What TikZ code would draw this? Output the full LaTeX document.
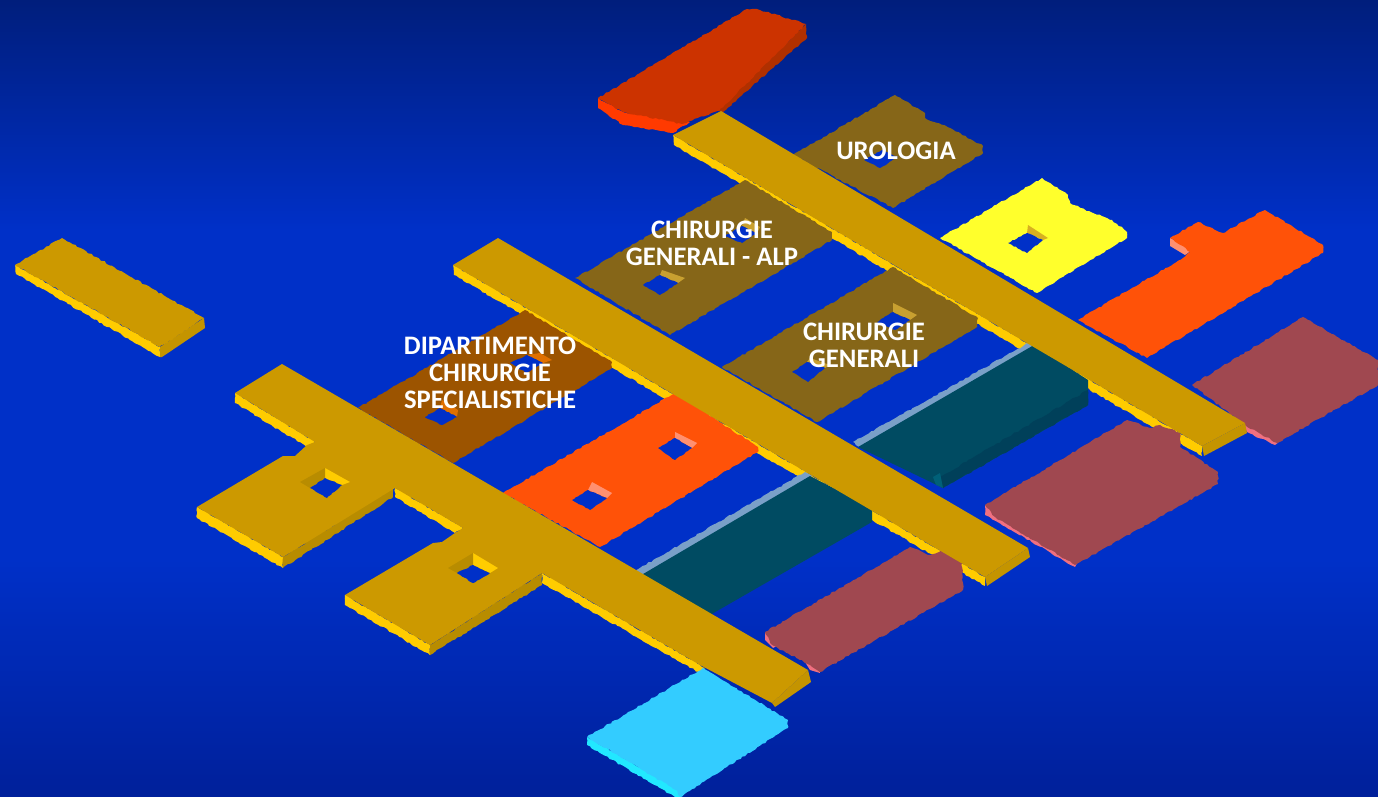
\documentclass[tikz,border=0pt]{standalone}
\usepackage{fontspec}
\usetikzlibrary{decorations.pathmorphing}
\setmainfont{Carlito}
\definecolor{bgtop}{HTML}{001E7C}
\definecolor{bgmid}{HTML}{0030C8}
\definecolor{bgbot}{HTML}{00209A}
\definecolor{bar}{HTML}{CC9900}
\definecolor{barrim}{HTML}{FFCC00}
\definecolor{barend}{HTML}{C49400}
\definecolor{barshade}{HTML}{B88C00}
\definecolor{olive}{HTML}{866618}
\definecolor{oliveLip}{HTML}{C8A030}
\definecolor{brownD}{HTML}{9C5400}
\definecolor{brownLip}{HTML}{E07000}
\definecolor{orangeD}{HTML}{FF5208}
\definecolor{salmon}{HTML}{FF9070}
\definecolor{yellowD}{HTML}{FFFF2C}
\definecolor{yellowLip}{HTML}{D8B020}
\definecolor{maroon}{HTML}{A04850}
\definecolor{maroonRim}{HTML}{F07080}
\definecolor{teal}{HTML}{004B62}
\definecolor{tealSide}{HTML}{00405A}
\definecolor{tealEnd}{HTML}{006078}
\definecolor{strip}{HTML}{7AA0C8}
\definecolor{cyanD}{HTML}{33CCFF}
\definecolor{cyanRim}{HTML}{22E8FF}
\definecolor{redTop}{HTML}{CC3300}
\definecolor{redRim}{HTML}{FF3A00}
\definecolor{redSide}{HTML}{B03000}
\tikzset{
  lab/.style={text=white,font=\bfseries\fontsize{26.7}{27}\selectfont,align=center,inner sep=0pt},
  hole/.style={fill=bgmid,decorate,decoration={random steps,segment length=2.5pt,amplitude=.5pt}},
  jag/.style={decorate,decoration={random steps,segment length=3pt,amplitude=.8pt}},
}
\pgfmathsetseed{7}
\begin{document}
\begin{tikzpicture}[x=1pt,y=-1pt]
\useasboundingbox (0,0) rectangle (1378,797);
% background
\fill[top color=bgtop,bottom color=bgmid] (0,0) rectangle (1378,230);
\fill[bgmid] (0,229) rectangle (1378,560);
\fill[top color=bgmid,bottom color=bgbot] (0,559) rectangle (1378,797);

% lone bar
\fill[barrim,jag] (15,265) -- (16,274) -- (160,357) -- (160,347) -- cycle;
\fill[barend] (160,347) -- (204,318) -- (205,328) -- (162,357) -- (160,357) -- cycle;
\fill[bar,jag] (15,265) -- (62,238) -- (204,318) -- (160,347) -- cycle;

% red block
\fill[redRim,jag] (598,98) -- (598,108) -- (623,125) -- (673,133) -- (690,122) -- (623,112) -- cycle;
\fill[redSide,jag] (806,24) -- (807,38) -- (723,112) -- (715,110) -- cycle;
\fill[redTop,jag] (598,98) -- (747,9) -- (757,9) -- (806,24) -- (720,110) -- (682,124) -- (623,112) -- cycle;

% rims of the bars
\fill[barrim,jag] (673,135) -- (674,145) -- (1202,456) -- (1202,446) -- cycle;
\fill[barrim,jag] (453,265) -- (454,275) -- (985,586) -- (985,577) -- cycle;
\fill[barrim,jag] (235,393) -- (235,403) -- (282,432) -- (307,446) -- (315,442) -- cycle;
\fill[barrim,jag] (197,507) -- (197,518) -- (283,568) -- (283,557) -- cycle;
\fill[barshade,jag] (283,557) -- (283,568) -- (393,497) -- (393,488) -- cycle;
\fill[barrim,jag] (395,488) -- (395,497) -- (455,533) -- (463,528) -- cycle;
\fill[barrim,jag] (345,595) -- (345,605) -- (430,655) -- (430,645) -- cycle;
\fill[barshade,jag] (430,645) -- (430,655) -- (542,585) -- (542,573) -- cycle;
\fill[barrim,jag] (542,573) -- (542,583) -- (700,673) -- (705,668) -- cycle;

% cyan block
\fill[cyanRim,jag] (587,737) -- (587,745) -- (675,797) -- (682,797) -- (676,788) -- cycle;
\fill[cyanD,jag] (587,737) -- (703,668) -- (788,720) -- (788,728) -- (680,797) -- (676,790) -- cycle;

% urologia
\fill[olive,jag] (793,155) -- (895,95) -- (925,113) -- (925,118) -- (950,128) -- (983,146) -- (983,153) -- (893,208) -- cycle;
\fill[hole] (864,160) -- (882,150) -- (898,157) -- (880,168) -- cycle;

% chirurgie generali - alp
\fill[olive,jag] (575,278) -- (745,180) -- (832,232) -- (832,240) -- (670,335) -- cycle;
\fill[oliveLip] (662,270) -- (685,278) -- (678,283) -- (660,275) -- cycle;
\fill[hole] (643,285) -- (660,275) -- (678,283) -- (660,295) -- cycle;
\fill[oliveLip] (745,218) -- (760,227) -- (757,233) -- (742,226) -- cycle;
\fill[hole] (725,236) -- (742,226) -- (757,233) -- (742,243) -- cycle;

% chirurgie generali
\fill[olive,jag] (722,367) -- (893,267) -- (978,318) -- (977,327) -- (817,422) -- cycle;
\fill[oliveLip] (893,303) -- (917,315) -- (910,320) -- (893,312) -- cycle;
\fill[hole] (877,322) -- (893,312) -- (910,320) -- (895,330) -- cycle;
\fill[oliveLip] (810,358) -- (830,365) -- (825,368) -- (807,362) -- cycle;
\fill[hole] (792,372) -- (807,362) -- (825,368) -- (808,382) -- cycle;

% dipartimento chirurgie specialistiche
\fill[brownD,jag] (358,408) -- (525,310) -- (612,362) -- (612,368) -- (453,463) -- cycle;
\fill[brownLip] (540,353) -- (552,360) -- (543,363) -- (527,355) -- cycle;
\fill[hole] (510,363) -- (527,355) -- (543,363) -- (527,373) -- cycle;
\fill[brownLip] (442,400) -- (458,410) -- (457,417) -- (440,408) -- cycle;
\fill[hole] (425,417) -- (440,408) -- (457,417) -- (442,425) -- cycle;

% lower orange
\fill[orangeD,jag] (503,493) -- (675,393) -- (758,447) -- (758,452) -- (600,547) -- cycle;
\fill[salmon] (675,432) -- (697,443) -- (692,448) -- (675,438) -- cycle;
\fill[hole] (658,448) -- (675,438) -- (692,448) -- (675,460) -- cycle;
\fill[salmon] (592,482) -- (612,493) -- (607,498) -- (588,490) -- cycle;
\fill[hole] (572,500) -- (588,490) -- (607,498) -- (590,510) -- cycle;

% yellow
\fill[yellowD,jag] (940,238) -- (1042,178) -- (1068,195) -- (1070,203) -- (1093,213) -- (1112,220) -- (1127,232) -- (1127,238) -- (1037,293) -- cycle;
\fill[yellowLip] (1028,225) -- (1048,238) -- (1043,240) -- (1027,233) -- cycle;
\fill[hole] (1008,243) -- (1027,233) -- (1043,240) -- (1027,253) -- cycle;

% right orange
\fill[salmon] (1170,238) -- (1170,246) -- (1185,255) -- (1192,250) -- cycle;
\fill[orangeD,jag] (1078,320) -- (1183,258) -- (1190,252) -- (1170,238) -- (1198,222) -- (1223,233) -- (1265,210) -- (1323,245) -- (1323,253) -- (1147,358) -- cycle;

% maroon blocks
\fill[maroonRim,jag] (1245,425) -- (1247,432) -- (1275,445) -- (1279,441) -- cycle;
\fill[maroon,jag] (1192,385) -- (1303,317) -- (1378,360) -- (1378,385) -- (1277,443) -- (1245,425) -- cycle;
\fill[maroonRim,jag] (985,505) -- (985,515) -- (1075,567) -- (1078,562) -- cycle;
\fill[maroon,jag] (985,505) -- (1127,420) -- (1150,428) -- (1160,425) -- (1180,433) -- (1180,447) -- (1218,472) -- (1218,484) -- (1075,565) -- (995,517) -- cycle;
\fill[maroonRim] (765,632) -- (765,640) -- (773,648) -- (780,644) -- cycle;
\fill[maroonRim] (805,662) -- (810,670) -- (820,673) -- (818,665) -- cycle;
\fill[maroon,jag] (765,632) -- (910,547) -- (930,555) -- (942,550) -- (962,562) -- (963,590) -- (820,672) -- (810,665) -- (772,645) -- cycle;

% teal slabs
\fill[strip,jag] (853,442) -- (1030,342) -- (1036,346) -- (859,447) -- cycle;
\fill[teal] (858,447) -- (1034,345) -- (1088,380) -- (1088,405) -- (943,488) -- cycle;
\fill[tealSide,jag] (1088,390) -- (1088,405) -- (943,488) -- (935,480) -- cycle;
\fill[tealEnd] (933,477) -- (940,473) -- (943,488) -- (936,485) -- cycle;
\fill[strip,jag] (633,572) -- (805,472) -- (812,476) -- (640,577) -- cycle;
\fill[teal] (638,577) -- (810,476) -- (872,508) -- (872,522) -- (710,615) -- cycle;

% tops and ends of the bars
\fill[barend] (1202,446) -- (1245,423) -- (1247,433) -- (1204,456) -- cycle;
\fill[bar] (673,135) -- (721,111) -- (1245,423) -- (1202,446) -- cycle;
\fill[barend] (985,577) -- (1028,548) -- (1030,557) -- (987,586) -- cycle;
\fill[bar] (453,265) -- (498,238) -- (1028,548) -- (985,577) -- cycle;
\fill[barend] (772,703) -- (808,670) -- (811,682) -- (775,707) -- cycle;
\fill[bar] (235,393) -- (282,364) -- (808,670) -- (772,703) -- (700,665) -- (542,573) -- (430,645) -- (345,595) -- (433,543) -- (442,542) -- (455,533) -- (463,528) -- (395,488) -- (283,557) -- (197,507) -- (283,456) -- (295,456) -- (307,445) -- (315,442) -- cycle;
% wing holes
\fill[barrim] (325,468) -- (350,482) -- (342,485) -- (325,478) -- cycle;
\fill[barshade] (300,482) -- (325,468) -- (325,478) -- (310,488) -- cycle;
\fill[hole] (310,488) -- (325,478) -- (342,485) -- (327,498) -- cycle;
\fill[barrim] (473,553) -- (498,568) -- (490,573) -- (473,565) -- cycle;
\fill[barshade] (448,568) -- (473,553) -- (473,565) -- (457,573) -- cycle;
\fill[hole] (457,573) -- (473,565) -- (490,573) -- (473,583) -- cycle;

% labels
\node[lab] (dip) at (490,373) {DIPARTIMENTO\\CHIRURGIE\\SPECIALISTICHE};
\node[lab] (alp) at (712,243) {CHIRURGIE\\GENERALI - ALP};
\node[lab] (gen) at (864,345) {CHIRURGIE\\GENERALI};
\node[lab] (uro) at (896,151) {UROLOGIA};
\end{tikzpicture}
\end{document}
